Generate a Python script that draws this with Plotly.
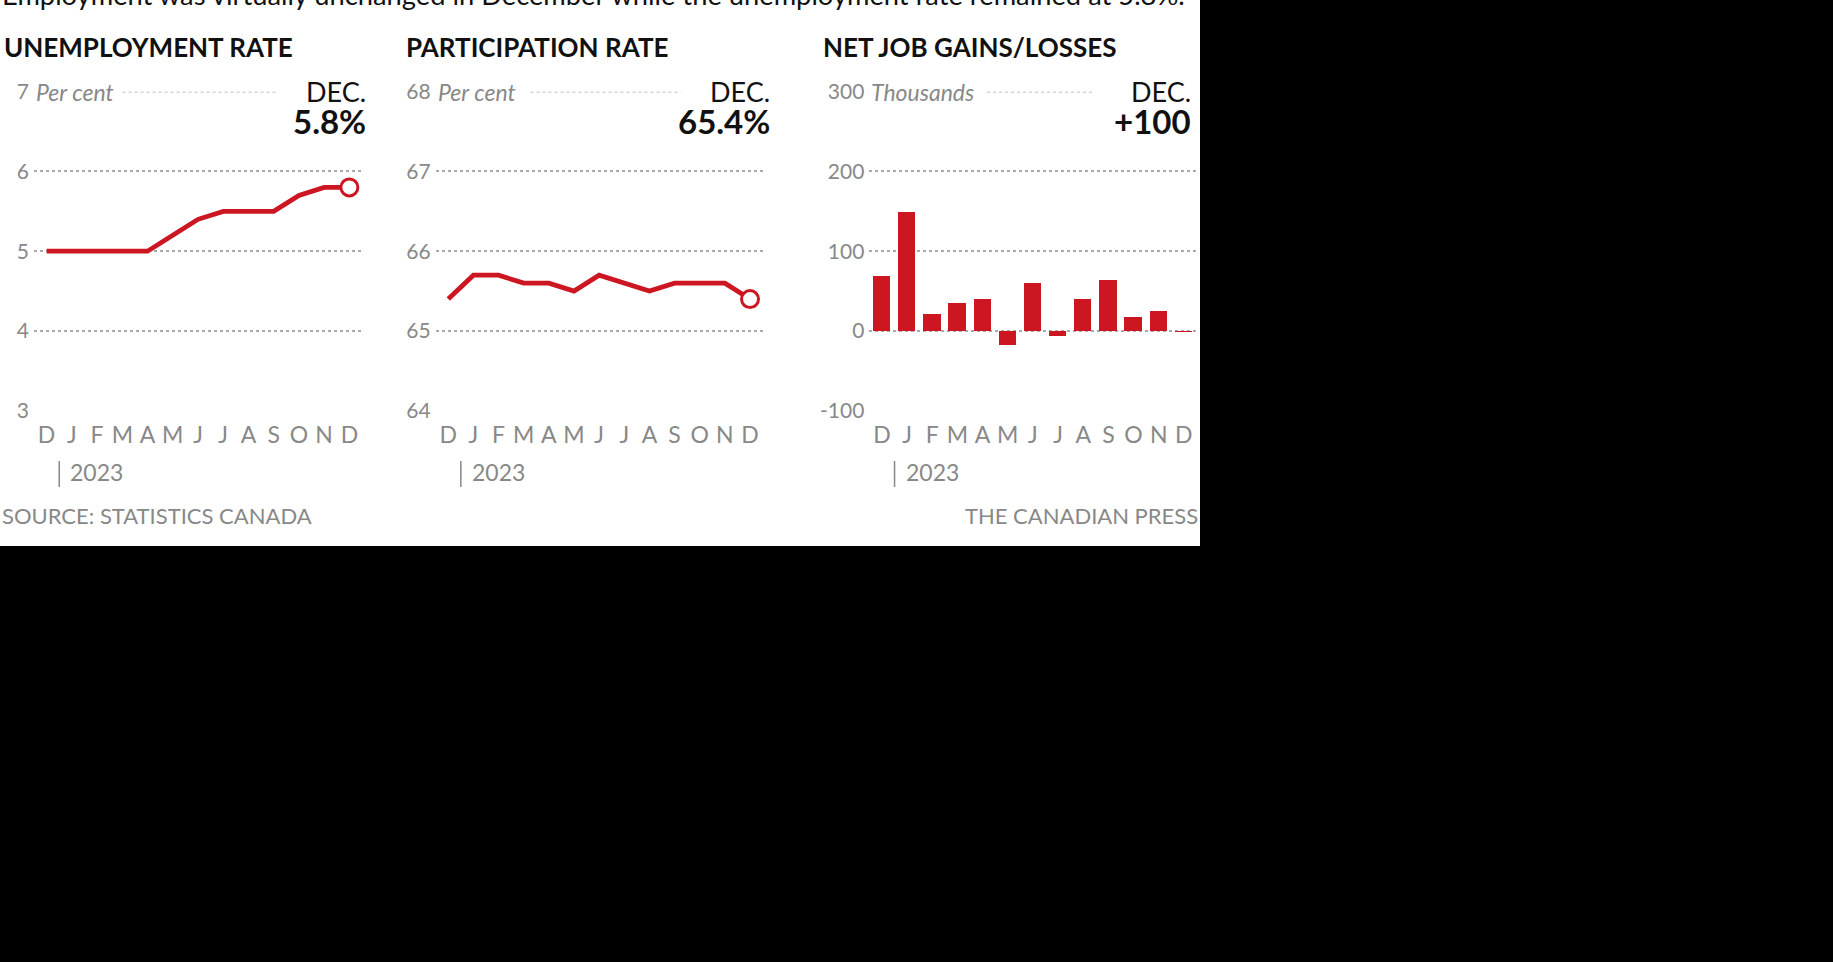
import plotly.graph_objects as go

# values (Dec 2022 .. Dec 2023)
months = ["D", "J", "F", "M", "A", "M", "J", "J", "A", "S", "O", "N", "D"]
unemployment = [5.0, 5.0, 5.0, 5.0, 5.0, 5.2, 5.4, 5.5, 5.5, 5.5, 5.7, 5.8, 5.8]
participation = [65.4, 65.7, 65.7, 65.6, 65.6, 65.5, 65.7, 65.6, 65.5, 65.6, 65.6, 65.6, 65.4]
job_change = [69, 149, 22, 35, 41, -17, 60, -6, 40, 64, 18, 25, 0.1]

unemp_ticks = [3, 4, 5, 6, 7]
part_ticks = [64, 65, 66, 67, 68]
jobs_ticks = [-100, 0, 100, 200, 300]
jobs_ticktext = ["-100", "0", "100", "200", "300"]

titles = ["UNEMPLOYMENT RATE", "PARTICIPATION RATE", "NET JOB GAINS/LOSSES"]
units = ["Per cent", "Per cent", "Thousands"]
latest = ["5.8%", "65.4%", "+100"]

headline = ("Employment was virtually unchanged in December while the "
            "unemployment rate remained at 5.8%.")

W, H = 1833, 962
RED = "#cc1622"
GREY = "#888888"
INK = "#111111"
FONT = "Lato"


def fx(px):
    return px / W


def fy(py):
    return 1 - py / H


x_domains = [(34, 362), (435.7, 762.6), (869.4, 1196.4)]
title_x = [2, 404, 821]
value_right = [368, 772, 1193]
top_dots = [(0.27, 0.74), (0.29, 0.75), (0.36, 0.69)]
y_dom = [fy(411.7), fy(91.7)]

fig = go.Figure()

xs = list(range(len(months)))
end_marker = dict(size=17, color="white", line=dict(color=RED, width=3))
fig.add_trace(go.Scatter(x=xs, y=unemployment, mode="lines",
                         line=dict(color=RED, width=4.8), xaxis="x", yaxis="y"))
fig.add_trace(go.Scatter(x=[xs[-1]], y=[unemployment[-1]], mode="markers",
                         marker=end_marker, xaxis="x", yaxis="y"))
fig.add_trace(go.Scatter(x=xs, y=participation, mode="lines",
                         line=dict(color=RED, width=4.8), xaxis="x2", yaxis="y2"))
fig.add_trace(go.Scatter(x=[xs[-1]], y=[participation[-1]], mode="markers",
                         marker=end_marker, xaxis="x2", yaxis="y2"))
fig.add_trace(go.Bar(x=xs, y=job_change, width=0.69, marker=dict(color=RED, line=dict(width=0)),
                     xaxis="x3", yaxis="y3"))

tick_font = dict(family=FONT, size=21, color=GREY)
month_font = dict(family=FONT, size=23, color=GREY)

axes = {}
y_setups = [(unemp_ticks, None), (part_ticks, None), (jobs_ticks, jobs_ticktext)]
for i in range(3):
    sfx = "" if i == 0 else str(i + 1)
    ticks, text = y_setups[i]
    span = ticks[-1] - ticks[0]
    axes["xaxis" + sfx] = dict(
        domain=[fx(x_domains[i][0]), fx(x_domains[i][1])],
        anchor="y" + sfx, range=[-0.5, 12.5], automargin=False,
        tickmode="array", tickvals=xs, ticktext=months,
        showgrid=False, zeroline=False, showline=False, ticks="",
        tickfont=month_font, ticklabelstandoff=7, fixedrange=True,
    )
    yax = dict(
        domain=y_dom, anchor="x" + sfx, range=[ticks[0] - span * 0.003, ticks[-1]],
        tickmode="array", tickvals=ticks, automargin=False,
        showgrid=False, zeroline=False, showline=False, ticks="",
        tickfont=tick_font, ticklabelstandoff=4, fixedrange=True,
        minor=dict(tickmode="array", tickvals=ticks[:-1], showgrid=True,
                   gridcolor="#aaaaaa", griddash="dot", gridwidth=1.5),
    )
    if text:
        yax["ticktext"] = text
    axes["yaxis" + sfx] = yax

shapes = [dict(type="rect", xref="paper", yref="paper", x0=0, x1=fx(1200),
               y0=fy(546), y1=1, fillcolor="white", line=dict(width=0), layer="below")]
annotations = [dict(text=headline, xref="paper", yref="paper", x=0, y=fy(-5),
                    xanchor="left", yanchor="middle", showarrow=False,
                    font=dict(family=FONT, size=27.3, color=INK))]

for i in range(3):
    sfx = "" if i == 0 else str(i + 1)
    top = y_setups[i][0][-1]
    annotations += [
        dict(text="<b>%s</b>" % titles[i], xref="paper", yref="paper",
             x=fx(title_x[i]), y=fy(46.5), xanchor="left", yanchor="middle",
             showarrow=False, font=dict(family=FONT, size=26, color=INK)),
        dict(text="<i>%s</i>" % units[i], xref="x%s domain" % sfx, yref="y" + sfx,
             x=0, y=top, xanchor="left", yanchor="middle", xshift=0,
             showarrow=False, font=dict(family=FONT, size=23, color=GREY)),
        dict(text="DEC.", xref="paper", yref="y" + sfx, x=fx(value_right[i]), y=top,
             xanchor="right", yanchor="middle", showarrow=False,
             font=dict(family=FONT, size=27, color=INK)),
        dict(text="<b>%s</b>" % latest[i], xref="paper", yref="paper",
             x=fx(value_right[i]), y=fy(121), xanchor="right", yanchor="middle",
             showarrow=False, font=dict(family=FONT, size=33, color=INK)),
        dict(text="2023", xref="x" + sfx, yref="paper", x=0.5, y=fy(472.3),
             xanchor="left", yanchor="middle", xshift=9, showarrow=False,
             font=month_font),
    ]
    shapes += [
        dict(type="line", xref="x%s domain" % sfx, yref="y" + sfx,
             x0=top_dots[i][0], x1=top_dots[i][1], y0=top, y1=top,
             line=dict(color="#aaaaaa", width=1.5, dash="dot")),
        dict(type="line", xref="x" + sfx, yref="paper", x0=0.5, x1=0.5,
             y0=fy(487), y1=fy(461), line=dict(color=GREY, width=1.5)),
    ]

annotations += [
    dict(text="SOURCE: STATISTICS CANADA", xref="paper", yref="paper", x=0,
         y=fy(515), xanchor="left", yanchor="middle", showarrow=False,
         font=dict(family=FONT, size=22, color=GREY)),
    dict(text="THE CANADIAN PRESS", xref="paper", yref="paper", x=fx(1200),
         y=fy(515), xanchor="right", yanchor="middle", showarrow=False,
         font=dict(family=FONT, size=22, color=GREY)),
]

fig.update_layout(
    width=W, height=H, margin=dict(l=0, r=0, t=0, b=0, pad=0, autoexpand=False),
    paper_bgcolor="black", plot_bgcolor="white",
    showlegend=False, bargap=0,
    shapes=shapes, annotations=annotations,
    font=dict(family=FONT),
    **axes,
)

# the page body has a default 8px margin; drop it so the figure fills the window
fig.write_html("out.html", config={"displayModeBar": False},
               post_script="document.body.style.margin = '0px';")
